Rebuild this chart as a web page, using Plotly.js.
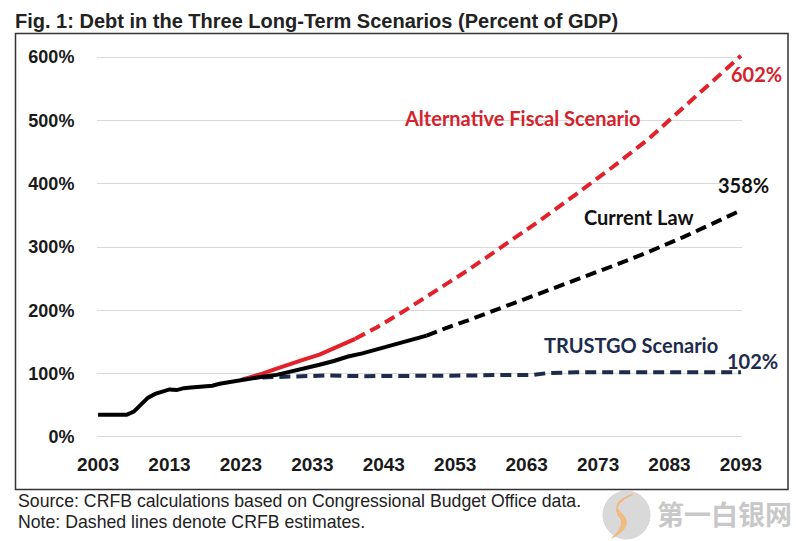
<!DOCTYPE html>
<html>
<head>
<meta charset="utf-8">
<script src="https://cdn.plot.ly/plotly-3.0.1.min.js"></script>
<style>
html,body{margin:0;padding:0;background:#fff;}
#chart{width:796px;height:541px;}
</style>
</head>
<body>
<div id="chart"></div>
<script>
// ---- Data ----
const xTickVals = [2003, 2013, 2023, 2033, 2043, 2053, 2063, 2073, 2083, 2093];
const yTickVals = [0, 100, 200, 300, 400, 500, 600];
const yTickText = ["0%", "100%", "200%", "300%", "400%", "500%", "600%"];

// Current Law - historical / CBO (solid)
const clYears = [2003,2004,2005,2006,2007,2008,2009,2010,2011,2012,2013,2014,2015,2016,2017,2018,2019,2020,2021,2022,2023,2024,2026,2028,2030,2032,2034,2036,2038,2040,2042,2044,2046,2048,2049];
const clVals  = [35,35,35,35,35,40,52,62,68,72,75,74,77,78,79,80,81,84,86,88,90,92,95,98,103,108,114,120,127,132,138,145,150,157,160];
// Current Law - CRFB estimates (dashed)
const clProjYears = [2049,2051,2055,2060,2065,2070,2076,2080,2085,2090,2093];
const clProjVals  = [160,169,185,206,227,249,274,292,316,342,358];

// Alternative Fiscal Scenario (solid, then dashed)
const afsYears = [2023,2024,2026,2028,2030,2032,2034,2036,2038,2039];
const afsVals  = [90,93,100,108,116,123,130,140,149,155];
const afsProjYears = [2039,2042,2046,2050,2055,2060,2065,2070,2075,2080,2085,2090,2093];
const afsProjVals  = [155,173,200,229,265,304,343,384,426,470,520,571,602];

// TRUSTGO Scenario (dashed)
const tgYears = [2026,2030,2035,2040,2045,2050,2055,2060,2064,2066,2070,2080,2090,2093];
const tgVals  = [94,96,97,96,96,97,97,98,98,101,102,102,102,102];

// ---- Layout helpers (pixel -> paper) ----
const L = 97, R = 742, T = 52, B = 442;
const px = x => (x - L) / (R - L);
const py = y => (B - y) / (B - T);

const RED = "#e2212b", BLACK = "#000000", NAVY = "#1d2b4c";
const dashPat = "11px,6px";
const LW = 4;

const traces = [
  {x: tgYears, y: tgVals, mode: "lines", line: {color: NAVY, width: LW, dash: dashPat}, hoverinfo: "skip"},
  {x: afsYears, y: afsVals, mode: "lines", line: {color: RED, width: LW}, hoverinfo: "skip"},
  {x: afsProjYears, y: afsProjVals, mode: "lines", line: {color: RED, width: LW, dash: dashPat}, hoverinfo: "skip"},
  {x: clProjYears, y: clProjVals, mode: "lines", line: {color: BLACK, width: LW, dash: dashPat}, hoverinfo: "skip"},
  {x: clYears, y: clVals, mode: "lines", line: {color: BLACK, width: LW}, hoverinfo: "skip"}
];

const lblFont = (c) => ({family: "Lato, 'Open Sans', sans-serif", size: 20, color: c, weight: "bold"});
const lbl = (text, x, y, c) => ({text, x: px(x), y: py(y), xref: "paper", yref: "paper",
  xanchor: "center", yanchor: "middle", showarrow: false, font: lblFont(c)});

// watermark swoosh path (pixel coords -> paper)
const P = (x, y) => px(x).toFixed(5) + "," + py(y).toFixed(5);
const swoosh = "M" + P(633, 494) + " Q" + P(608, 503) + " " + P(622, 514) +
  " Q" + P(634, 526) + " " + P(612, 538) + " Q" + P(628, 524) + " " + P(618, 515) +
  " Q" + P(612, 504) + " " + P(633, 494) + " Z";

const layout = {
  width: 796, height: 541,
  paper_bgcolor: "#fff", plot_bgcolor: "#fff",
  showlegend: false,
  margin: {l: L, r: 796 - R, t: T, b: 541 - B, pad: 0},
  title: {
    text: "<b>Fig. 1: Debt in the Three Long-Term Scenarios (Percent of GDP)</b>",
    font: {family: "'Liberation Sans', Arial, sans-serif", size: 20, color: "#222"},
    x: 15 / 796, xanchor: "left", xref: "container",
    y: 1 - 21 / 541, yanchor: "middle", yref: "container"
  },
  xaxis: {
    range: [2002.85, 2093.15],
    tickvals: xTickVals, ticktext: xTickVals.map(String),
    showgrid: false, zeroline: false, showline: false,
    ticks: "outside", ticklen: 5, tickcolor: "rgba(0,0,0,0)",
    tickfont: {family: "'Liberation Sans', Arial, sans-serif", size: 19, color: "#1a1a1a", weight: "bold"},
    fixedrange: true
  },
  yaxis: {
    range: [-8, 608],
    tickvals: yTickVals, ticktext: yTickText,
    showgrid: true, gridcolor: "#d9d9d9", gridwidth: 1,
    zeroline: false, showline: false,
    ticks: "outside", ticklen: 18, tickcolor: "rgba(0,0,0,0)",
    tickfont: {family: "'Liberation Sans', Arial, sans-serif", size: 18, color: "#1a1a1a", weight: "bold"},
    fixedrange: true
  },
  shapes: [
    {type: "rect", xref: "paper", yref: "paper",
     x0: px(15.5), x1: px(788), y0: py(489.5), y1: py(33.5),
     line: {color: "#333", width: 1.5}, fillcolor: "rgba(0,0,0,0)", layer: "below"},
    {type: "circle", xref: "paper", yref: "paper",
     x0: px(603), x1: px(650), y0: py(539), y1: py(491),
     line: {color: "#d6d6d6", width: 1}, fillcolor: "#d9d9d9", layer: "below"},
    {type: "path", xref: "paper", yref: "paper", path: swoosh,
     line: {color: "#f2b57a", width: 1}, fillcolor: "#f4bb80", layer: "below"}
  ],
  annotations: [
    lbl("Alternative Fiscal Scenario", 522, 118, "#d5222c"),
    lbl("602%", 756, 74, "#d5222c"),
    lbl("Current Law", 639, 217, "#111"),
    lbl("358%", 743, 185, "#111"),
    lbl("TRUSTGO Scenario", 631, 345, NAVY),
    lbl("102%", 752, 361, NAVY),
    {text: "Source: CRFB calculations based on Congressional Budget Office data.", x: px(16), y: py(501), xref: "paper", yref: "paper",
     xanchor: "left", yanchor: "middle", showarrow: false,
     font: {family: "'Liberation Sans', Arial, sans-serif", size: 17.7, color: "#222"}},
    {text: "Note: Dashed lines denote CRFB estimates.", x: px(16), y: py(522), xref: "paper", yref: "paper",
     xanchor: "left", yanchor: "middle", showarrow: false,
     font: {family: "'Liberation Sans', Arial, sans-serif", size: 17.7, color: "#222"}},
    {text: "第一白银网", x: px(655), y: py(513), xref: "paper", yref: "paper", xanchor: "left", yanchor: "middle", showarrow: false,
     font: {family: "'Noto Sans CJK SC', sans-serif", size: 27, color: "#c8c8c8", weight: "bold"}}
  ]
};

Plotly.newPlot("chart", traces, layout, {displayModeBar: false, staticPlot: true});
</script>
</body>
</html>
